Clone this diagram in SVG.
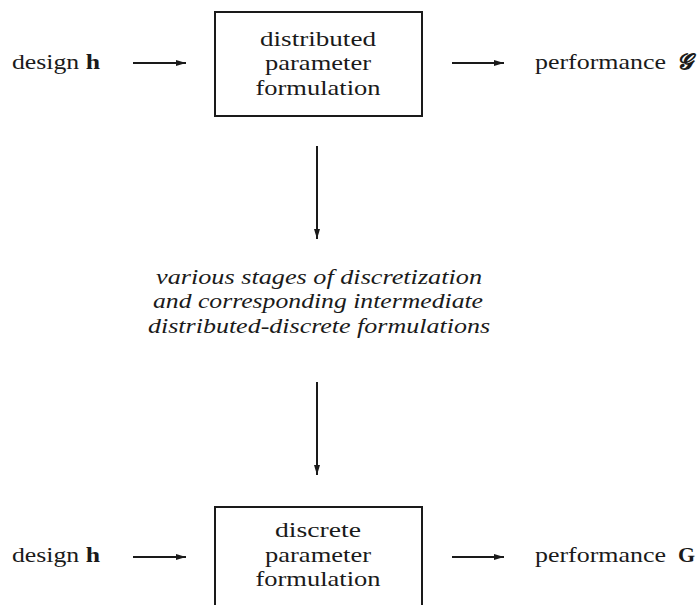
<svg xmlns="http://www.w3.org/2000/svg" width="699" height="605" viewBox="0 0 699 605">
<defs>
<marker id="ah" viewBox="0 0 10 6" refX="10" refY="3" markerWidth="10" markerHeight="6" markerUnits="userSpaceOnUse" orient="auto">
<path d="M0,0 L10,3 L0,6 Z" fill="#1a1a1a"/>
</marker>
<style>
.t{font-family:"Liberation Serif","DejaVu Serif",serif;font-size:22px;fill:#1a1a1a}
.c{text-anchor:middle}
.i{font-style:italic}
.b{font-weight:bold}
.box{fill:none;stroke:#1a1a1a;stroke-width:2}
.ln{stroke:#1a1a1a;stroke-width:2;fill:none;marker-end:url(#ah)}
</style>
</defs>
<rect width="699" height="605" fill="#ffffff"/>
<g id="in-top"><text class="t" x="12" y="69" textLength="88" lengthAdjust="spacingAndGlyphs">design <tspan class="b">h</tspan></text></g>
<g id="box-top">
<rect class="box" x="215" y="12" width="207" height="104"/>
<text class="t c" x="318" y="46" textLength="116" lengthAdjust="spacingAndGlyphs">distributed</text>
<text class="t c" x="318" y="70" textLength="106" lengthAdjust="spacingAndGlyphs">parameter</text>
<text class="t c" x="318" y="95" textLength="125" lengthAdjust="spacingAndGlyphs">formulation</text>
</g>
<g id="out-top">
<text class="t" x="535" y="69" textLength="131" lengthAdjust="spacingAndGlyphs">performance</text>
<text class="t b i" x="677" y="69" font-family="DejaVu Serif" font-size="20">𝓖</text>
</g>
<g id="middle">
<text class="t c i" x="319" y="284" textLength="326" lengthAdjust="spacingAndGlyphs">various stages of discretization</text>
<text class="t c i" x="318" y="308" textLength="330" lengthAdjust="spacingAndGlyphs">and corresponding intermediate</text>
<text class="t c i" x="319" y="333" textLength="342" lengthAdjust="spacingAndGlyphs">distributed-discrete formulations</text>
</g>
<g id="in-bot"><text class="t" x="12" y="562" textLength="88" lengthAdjust="spacingAndGlyphs">design <tspan class="b">h</tspan></text></g>
<g id="box-bot">
<rect class="box" x="215" y="507" width="207" height="104"/>
<text class="t c" x="318" y="537" textLength="86" lengthAdjust="spacingAndGlyphs">discrete</text>
<text class="t c" x="318" y="562" textLength="106" lengthAdjust="spacingAndGlyphs">parameter</text>
<text class="t c" x="318" y="586" textLength="125" lengthAdjust="spacingAndGlyphs">formulation</text>
</g>
<g id="out-bot">
<text class="t" x="535" y="562" textLength="131" lengthAdjust="spacingAndGlyphs">performance</text>
<text class="t b" x="678" y="562">G</text>
</g>
<g id="connectors">
<line class="ln" x1="133" y1="63" x2="186" y2="63"/>
<line class="ln" x1="452" y1="63" x2="504" y2="63"/>
<line class="ln" x1="317" y1="146" x2="317" y2="239"/>
<line class="ln" x1="317" y1="382" x2="317" y2="475"/>
<line class="ln" x1="133" y1="557" x2="186" y2="557"/>
<line class="ln" x1="452" y1="557" x2="504" y2="557"/>
</g>
</svg>
